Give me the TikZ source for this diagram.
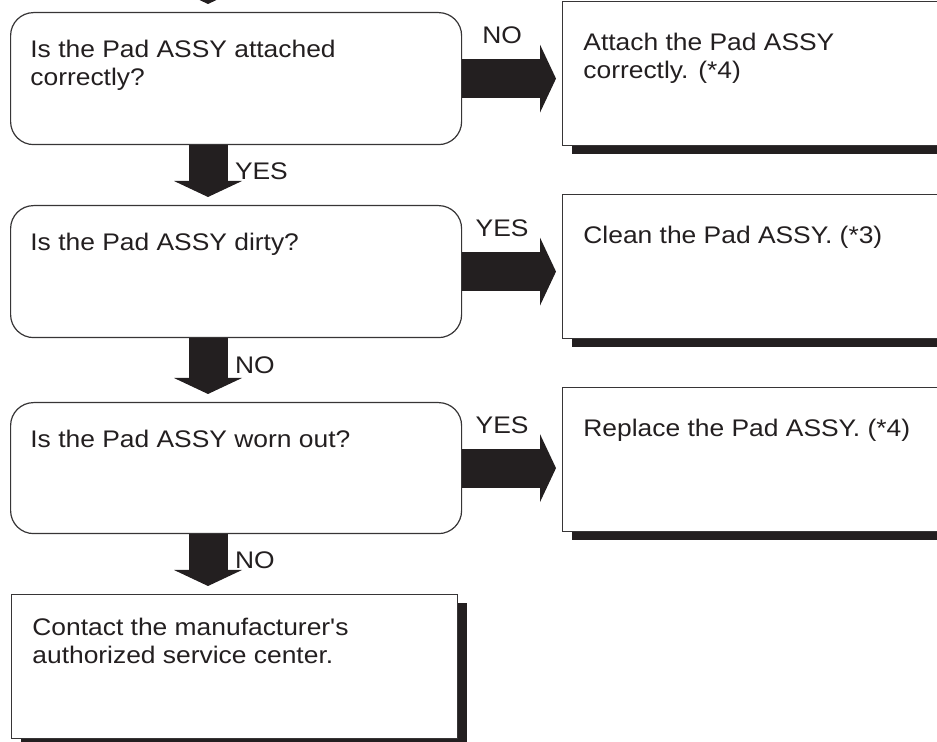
\documentclass[tikz,border=0pt]{standalone}
\usepackage{fontspec}
\setmainfont{Liberation Sans}[FakeStretch=1.1, Ligatures=TeXOff]
\usetikzlibrary{arrows.meta,shadows}
\definecolor{ink}{RGB}{35,31,32}
\definecolor{rim}{RGB}{55,53,54}
\tikzset{
  qbox/.style     = {draw=rim, line width=0.6pt, fill=white, rounded corners=11.5pt,
                     anchor=north west, inner sep=0pt,
                     minimum width=225.5pt, minimum height=66pt},
  % action boxes: drop shadow below and to the right
  abox/.style     = {draw=rim, line width=0.6pt, fill=white, anchor=north west,
                     inner sep=0pt, minimum width=200pt, minimum height=72pt,
                     general shadow={fill=ink, shadow xshift=4.5pt, shadow yshift=-4pt}},
  boxtext/.style  = {anchor=north west, align=left, inner sep=0pt, text=ink,
                     font=\fontsize{12}{14}\selectfont},
  answer/.style   = {inner sep=0pt, outer sep=0pt, text=ink, font=\fontsize{12}{14}\selectfont},
  bigarrow/.style = {draw=ink, line width=19.5pt,
                     -{Triangle[width=34pt, length=8pt, line width=0pt]}},
}

\begin{document}
\begin{tikzpicture}[x=0.5pt, y=-0.5pt]

    \useasboundingbox (0,0) rectangle (937,742);
    \clip (0,0) rectangle (937,742);

    % questions
    \node[qbox] (q1) at (10,12)  {};
    \node[qbox] (q2) at (10,205) {};
    \node[qbox, minimum height=65.5pt] (q3) at (10,402) {};

    % actions
    \node[abox] (a1) at (562,1)   {};
    \node[abox] (a2) at (562,194) {};
    \node[abox] (a3) at (562,387) {};
    \node[abox, minimum width=223pt] (svc) at (11,594) {};

    \node[boxtext] (tq1) at ([shift={(20,28)}]q1.north west) {Is the Pad ASSY attached\\correctly?};
    \node[boxtext] (tq2) at ([shift={(20,28)}]q2.north west) {Is the Pad ASSY dirty?};
    \node[boxtext] (tq3) at ([shift={(20,28)}]q3.north west) {Is the Pad ASSY worn out?};
    \node[boxtext] (ta1) at ([shift={(21,32)}]a1.north west) {Attach the Pad ASSY\\correctly. (*4)};
    \node[boxtext] (ta2) at ([shift={(21,32)}]a2.north west) {Clean the Pad ASSY. (*3)};
    \node[boxtext] (ta3) at ([shift={(21,32)}]a3.north west) {Replace the Pad ASSY. (*4)};
    \node[boxtext] (tsvc) at ([shift={(21,24)}]svc.north west) {Contact the manufacturer's\\authorized service center.};

    \coordinate (spine) at (208,0);
    \coordinate (entry) at (208,-40);

    \draw[bigarrow, shorten >=4pt] (entry) -- (q1.north -| spine);
    \draw[bigarrow, shorten >=4pt] (q1.south -| spine)
        -- node[answer, pos=0.43, anchor=west, xshift=13.5pt] {YES} (q2.north -| spine);
    \draw[bigarrow, shorten >=4pt] (q2.south -| spine)
        -- node[answer, pos=0.43, anchor=west, xshift=13.5pt] {NO} (q3.north -| spine);
    \draw[bigarrow, shorten >=4pt] (q3.south -| spine)
        -- node[answer, pos=0.43, anchor=west, xshift=13.5pt] {NO} (svc.north -| spine);

    \draw[bigarrow, shorten >=3pt] (q1.east)
        -- node[answer, pos=0.4, yshift=21.5pt] {NO} (q1.east -| a1.west);
    \draw[bigarrow, shorten >=3pt] (q2.east)
        -- node[answer, pos=0.4, yshift=21.5pt] {YES} (q2.east -| a2.west);
    \draw[bigarrow, shorten >=3pt] (q3.east)
        -- node[answer, pos=0.4, yshift=21.5pt] {YES} (q3.east -| a3.west);
  \end{tikzpicture}
\end{document}
